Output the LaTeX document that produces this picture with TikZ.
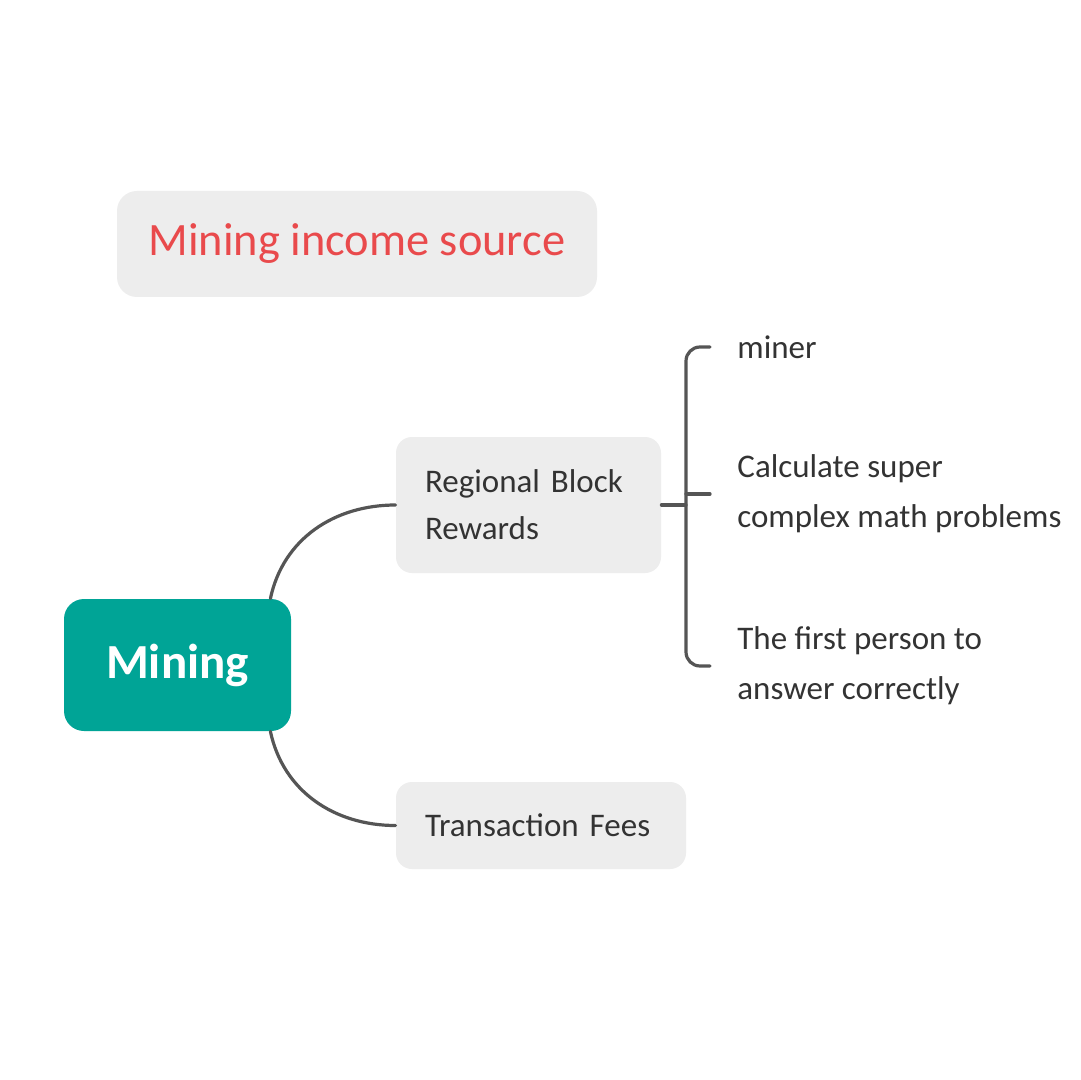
\documentclass[tikz,border=0pt]{standalone}
\usepackage{fontspec}
\setmainfont{Carlito}
\begin{document}
\begin{tikzpicture}[x=0.5pt,y=-0.5pt,
  box/.style={rectangle,rounded corners=8pt,fill=boxColor,inner sep=0pt},
  leaf/.style={anchor=west,inner sep=0pt,text=textColor,align=left,font=\fontsize{16.5}{25}\selectfont},
  link/.style={draw=lineColor,line width=1.6pt,line cap=round}]
\definecolor{fillColor}{RGB}{255,255,255}
\definecolor{boxColor}{RGB}{237,237,237}
\definecolor{titleColor}{RGB}{233,74,76}
\definecolor{rootColor}{RGB}{0,164,150}
\definecolor{textColor}{RGB}{51,51,51}
\definecolor{lineColor}{RGB}{85,85,85}
\path[use as bounding box,fill=fillColor] (0,0) rectangle (1080,1080);

\node[box,rounded corners=10pt,minimum width=240pt,minimum height=53pt,text=titleColor,font=\fontsize{23.2}{28}\selectfont] (title) at (357,244) {Mining income source};

\node[box,rounded corners=10pt,fill=rootColor,minimum width=113.5pt,minimum height=66pt,text=white,font=\fontsize{24.5}{30}\selectfont\bfseries] (mining) at (177.5,665) {Mining};

\node[box,minimum width=132.5pt,minimum height=68pt,text width=103.5pt,align=left,text=textColor,font=\fontsize{16.5}{23.5}\selectfont] (rewards) at (528.5,505) {Regional Block\\Rewards};

\node[box,minimum width=145pt,minimum height=43.5pt,text width=116pt,align=left,text=textColor,font=\fontsize{16.5}{23.5}\selectfont] (fees) at (541,825.5) {Transaction Fees};

\node[leaf] (miner) at (737,347) {miner};
\node[leaf] (calc) at (737,494) {Calculate super\\complex math problems};
\node[leaf] (first) at (737,666) {The first person to\\answer correctly};

\coordinate (hub) at (686,505);

\draw[link] ([xshift=-10.5pt]mining.north east) to[out=78,in=180] (rewards.west);
\draw[link] ([xshift=-10.5pt]mining.south east) to[out=-78,in=180] (fees.west);

\draw[link] (rewards.east) -- (hub);
\draw[link,rounded corners=7pt] ([xshift=-13.5pt]miner.west) -| (hub) |- ([xshift=-13.5pt]first.west);
\draw[link] (hub |- calc.west) -- ([xshift=-13.5pt]calc.west);
\end{tikzpicture}
\end{document}
